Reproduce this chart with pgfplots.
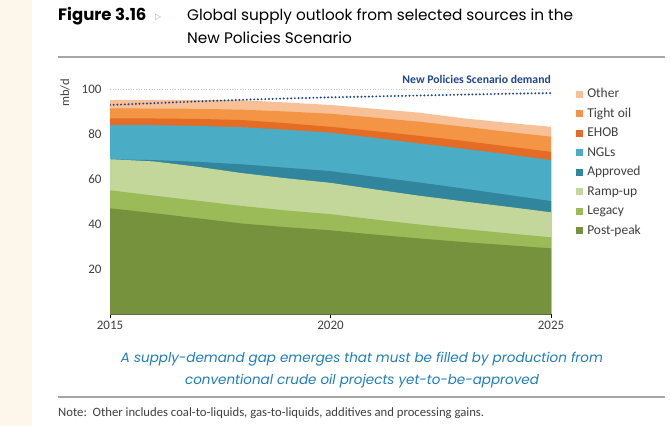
\documentclass[border=0pt]{standalone}
\usepackage{pgfplots}
\pgfplotsset{compat=1.18}
\usepackage{pgfplotstable}
\usepackage{fontspec}
\setmainfont{Carlito}
\newfontfamily\gothic{Poppins}
\newfontfamily\symb{DejaVu Sans}

\definecolor{cother}{HTML}{F8C096}
\definecolor{ctight}{HTML}{F39545}
\definecolor{cehob}{HTML}{E46C24}
\definecolor{cngl}{HTML}{4BACC6}
\definecolor{capproved}{HTML}{31859C}
\definecolor{cramp}{HTML}{C4D79B}
\definecolor{clegacy}{HTML}{9BBB59}
\definecolor{cpost}{HTML}{76923C}
\definecolor{demandblue}{HTML}{1F468F}
\definecolor{capblue}{HTML}{1F7DC0}
\definecolor{beige}{HTML}{FCF7EA}
\definecolor{txt}{HTML}{404040}

% cumulative top of each band, mb/d
\pgfplotstableread{
year pp   legacy ramp approved ngl  ehob tight other demand
2015 47.0 55.0   68.8 68.8     84.0 87.0 91.4  95.1  92.9
2016 44.8 52.6   67.8 68.4     83.9 86.9 91.3  95.2  93.7
2017 42.5 50.3   65.4 67.6     83.6 86.7 91.2  95.1  94.5
2018 40.2 48.0   62.6 66.5     83.0 86.2 90.8  95.0  95.2
2019 38.6 46.0   60.3 65.0     81.9 84.8 90.0  94.0  95.8
2020 37.2 44.4   58.3 63.5     80.6 83.2 89.0  92.9  96.3
2021 35.3 42.0   55.4 61.0     78.3 81.3 87.3  91.2  96.7
2022 33.6 39.8   52.6 58.5     75.8 79.2 85.5  89.5  97.1
2023 32.0 37.8   50.1 55.8     73.5 77.0 83.3  87.0  97.5
2024 30.6 35.9   47.7 53.0     71.0 74.5 81.0  85.0  97.9
2025 29.2 34.1   45.2 50.2     68.4 72.1 78.8  83.2  98.2
}\supply

\begin{document}
\begin{tikzpicture}
\path[use as bounding box, fill=white] (0pt,0pt) rectangle (670pt,-426pt);
\fill[beige] (0pt,0pt) rectangle (32pt,-426pt);

% title
\node[anchor=base west, inner sep=0] at (58pt,-20pt) {\gothic\bfseries\fontsize{16.5}{19}\selectfont Figure 3.16};
\node[anchor=base west, inner sep=0, text=capblue!60] at (155pt,-19pt) {\symb\fontsize{8}{10}\selectfont ▷};
\node[anchor=base west, inner sep=0] at (187pt,-20pt) {\gothic\fontsize{15.3}{18}\selectfont Global supply outlook from selected sources in the};
\node[anchor=base west, inner sep=0] at (187pt,-43pt) {\gothic\fontsize{15.3}{18}\selectfont New Policies Scenario};
\draw[gray!70, line width=1.2pt] (58pt,-57pt) -- (665pt,-57pt);

% unit and demand label
\node[rotate=90, inner sep=0, text=txt] at (65pt,-93pt) {\fontsize{12.5}{14}\selectfont mb/d};
\node[anchor=base east, inner sep=0, text=demandblue] at (551pt,-83pt) {\bfseries\fontsize{11.7}{14}\selectfont New Policies Scenario demand};

\begin{axis}[
    at={(110pt,-314pt)}, anchor=south west,
    scale only axis, width=441pt, height=225pt,
    xmin=2015, xmax=2025, ymin=0, ymax=100,
    axis x line*=bottom, axis y line*=left,
    x axis line style={-, line width=1pt},
    y axis line style={draw=none},
    xtick={2015,2020,2025},
    ytick={20,40,60,80,100},
    tick align=outside,
    major tick length=4pt,
    ytick style={draw=none},
    xtick style={black, line width=1pt},
    /pgf/number format/assume math mode=true,
    /pgf/number format/1000 sep={},
    tick label style={font=\fontsize{13}{15}\selectfont, text=txt},
    yticklabel style={xshift=-1pt},
    legend style={at={(1.05,1.018)}, anchor=north west, draw=none, fill=none,
        font=\fontsize{13.5}{15}\selectfont, text=txt, row sep=5pt,
        nodes={text height=9.5pt, text depth=3pt, inner sep=1pt},
        /tikz/every odd column/.append style={column sep=3pt}},
    legend cell align=left,
    legend image code/.code={\fill[#1] (0pt,-3.5pt) rectangle (7pt,3.5pt);},
]
\addplot[fill=cother, draw=none] table[x=year, y=other] {\supply} \closedcycle;
\addlegendentry{Other}
\addplot[fill=ctight, draw=none] table[x=year, y=tight] {\supply} \closedcycle;
\addlegendentry{Tight oil}
\addplot[fill=cehob, draw=none] table[x=year, y=ehob] {\supply} \closedcycle;
\addlegendentry{EHOB}
\addplot[fill=cngl, draw=none] table[x=year, y=ngl] {\supply} \closedcycle;
\addlegendentry{NGLs}
\addplot[fill=capproved, draw=none] table[x=year, y=approved] {\supply} \closedcycle;
\addlegendentry{Approved}
\addplot[fill=cramp, draw=none] table[x=year, y=ramp] {\supply} \closedcycle;
\addlegendentry{Ramp-up}
\addplot[fill=clegacy, draw=none] table[x=year, y=legacy] {\supply} \closedcycle;
\addlegendentry{Legacy}
\addplot[fill=cpost, draw=none] table[x=year, y=pp] {\supply} \closedcycle;
\addlegendentry{Post-peak}

\draw[gray!45, dotted, line width=0.6pt] (axis cs:2015,100) -- (axis cs:2025,100);
\addplot[forget plot, color=demandblue, line width=2.2pt, line cap=round,
    dash pattern=on 0pt off 3.7pt] table[x=year, y=demand] {\supply};
\end{axis}

% caption and note
\node[anchor=base, inner sep=0, text=capblue] at (362pt,-362pt) {\gothic\itshape\fontsize{13.5}{16}\selectfont A supply-demand gap emerges that must be filled by production from};
\node[anchor=base, inner sep=0, text=capblue] at (362pt,-384pt) {\gothic\itshape\fontsize{13.5}{16}\selectfont conventional crude oil projects yet-to-be-approved};
\draw[gray!70, line width=1.2pt] (58pt,-397pt) -- (665pt,-397pt);
\node[anchor=base west, inner sep=0, text=txt] at (58pt,-416pt) {\fontsize{12.7}{15}\selectfont Note:\ \ Other includes coal-to-liquids, gas-to-liquids, additives and processing gains.};
\end{tikzpicture}
\end{document}
